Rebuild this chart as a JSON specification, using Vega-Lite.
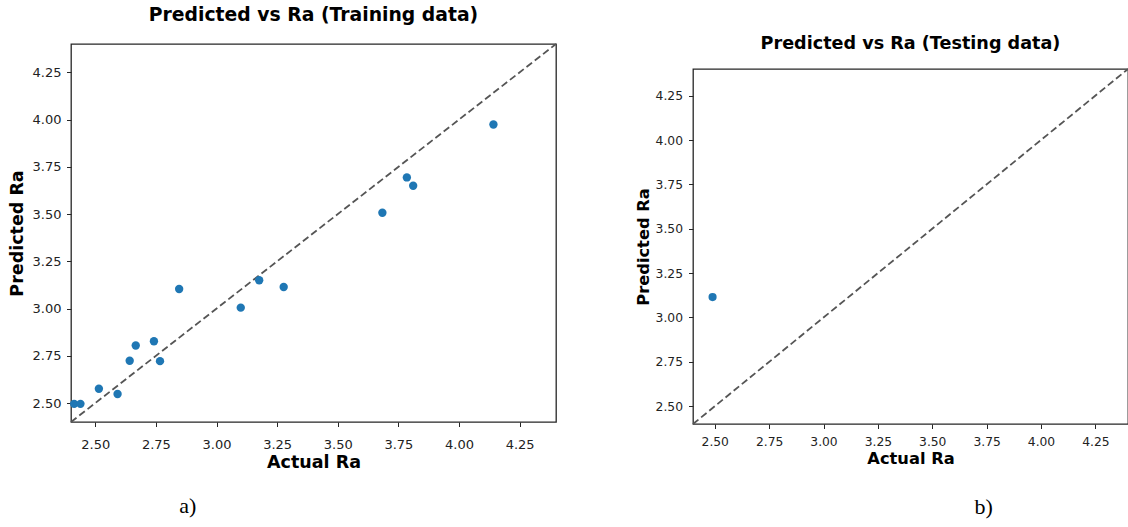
{
  "$schema": "https://vega.github.io/schema/vega-lite/v6.json",
  "background": "white",
  "padding": {"left": 7, "top": 4, "right": 0, "bottom": 0},
  "spacing": 73,
  "config": {
    "font": "DejaVu Sans",
    "view": {"stroke": "#262626", "strokeWidth": 1.3},
    "axis": {
      "grid": false,
      "domain": false,
      "tickColor": "#262626",
      "tickSize": 4.5,
      "labelColor": "#222222",
      "labelFont": "DejaVu Sans",
      "titleFont": "DejaVu Sans",
      "titleColor": "#000000",
      "titleFontWeight": "bold",
      "labelOverlap": false,
      "labelFlush": false
    },
    "title": {"font": "DejaVu Sans", "fontWeight": "bold", "color": "#000000"}
  },
  "datasets": {
    "train": [
      {"a": 2.413, "p": 2.496},
      {"a": 2.439, "p": 2.496},
      {"a": 2.515, "p": 2.576},
      {"a": 2.592, "p": 2.548},
      {"a": 2.642, "p": 2.724},
      {"a": 2.667, "p": 2.805},
      {"a": 2.742, "p": 2.827},
      {"a": 2.767, "p": 2.722},
      {"a": 2.846, "p": 3.104},
      {"a": 3.100, "p": 3.005},
      {"a": 3.176, "p": 3.150},
      {"a": 3.277, "p": 3.114},
      {"a": 3.684, "p": 3.507},
      {"a": 3.785, "p": 3.694},
      {"a": 3.811, "p": 3.650},
      {"a": 4.142, "p": 3.974}
    ],
    "test": [
      {"a": 2.49, "p": 3.115}
    ],
    "diag": [
      {"a": 2.4, "p": 2.4},
      {"a": 4.4, "p": 4.4}
    ],
    "none": []
  },
  "hconcat": [
    {
      "title": {"text": "a)", "orient": "bottom", "font": "Liberation Serif", "fontWeight": "normal", "fontSize": 22, "anchor": "middle", "dx": -96, "offset": 24, "color": "#000000"},
      "vconcat": [
        {
          "title": {"text": "Predicted vs Ra (Training data)", "fontSize": 18.8, "offset": 16},
          "width": 485,
          "height": 378,
          "layer": [
            {
              "data": {"name": "diag"},
              "mark": {"type": "line", "color": "#555555", "strokeDash": [7, 3.5], "strokeWidth": 1.8},
              "encoding": {
                "x": {"field": "a", "type": "quantitative", "scale": {"domain": [2.4, 4.4], "nice": false, "zero": false},
                  "axis": {"values": [2.5, 2.75, 3.0, 3.25, 3.5, 3.75, 4.0, 4.25], "format": ".2f", "labelFontSize": 13, "labelPadding": 12, "title": "Actual Ra", "titleFontSize": 17.5, "titlePadding": 2}},
                "y": {"field": "p", "type": "quantitative", "scale": {"domain": [2.4, 4.4], "nice": false, "zero": false},
                  "axis": {"values": [2.5, 2.75, 3.0, 3.25, 3.5, 3.75, 4.0, 4.25], "format": ".2f", "labelFontSize": 13, "labelPadding": 5.5, "title": "Predicted Ra", "titleFontSize": 17.5, "titlePadding": 6}}
              }
            },
            {
              "data": {"name": "train"},
              "mark": {"type": "circle", "size": 70, "color": "#1f77b4", "opacity": 1},
              "encoding": {
                "x": {"field": "a", "type": "quantitative"},
                "y": {"field": "p", "type": "quantitative"}
              }
            }
          ]
        }
      ]
    },
    {
      "title": {"text": "b)", "orient": "bottom", "font": "Liberation Serif", "fontWeight": "normal", "fontSize": 22, "anchor": "middle", "dx": 100, "offset": 30, "color": "#000000"},
      "spacing": 11,
      "vconcat": [
        {
          "title": {"text": "Predicted vs Ra (Testing data)", "fontSize": 17.6, "offset": -9},
          "width": 435,
          "height": 1,
          "view": {"stroke": null},
          "data": {"name": "none"},
          "mark": "point"
        },
        {
          "width": 435,
          "height": 355,
          "layer": [
            {
              "data": {"name": "diag"},
              "mark": {"type": "line", "color": "#555555", "strokeDash": [7, 3.5], "strokeWidth": 1.8},
              "encoding": {
                "x": {"field": "a", "type": "quantitative", "scale": {"domain": [2.4, 4.4], "nice": false, "zero": false},
                  "axis": {"values": [2.5, 2.75, 3.0, 3.25, 3.5, 3.75, 4.0, 4.25], "format": ".2f", "labelFontSize": 12.3, "labelPadding": 6.5, "title": "Actual Ra", "titleFontSize": 16.3, "titlePadding": 3}},
                "y": {"field": "p", "type": "quantitative", "scale": {"domain": [2.4, 4.4], "nice": false, "zero": false},
                  "axis": {"values": [2.5, 2.75, 3.0, 3.25, 3.5, 3.75, 4.0, 4.25], "format": ".2f", "labelFontSize": 12.3, "labelPadding": 6, "title": "Predicted Ra", "titleFontSize": 16.3, "titlePadding": 3.5}}
              }
            },
            {
              "data": {"name": "test"},
              "mark": {"type": "circle", "size": 66, "color": "#1f77b4", "opacity": 1},
              "encoding": {
                "x": {"field": "a", "type": "quantitative"},
                "y": {"field": "p", "type": "quantitative"}
              }
            }
          ]
        }
      ]
    }
  ]
}
